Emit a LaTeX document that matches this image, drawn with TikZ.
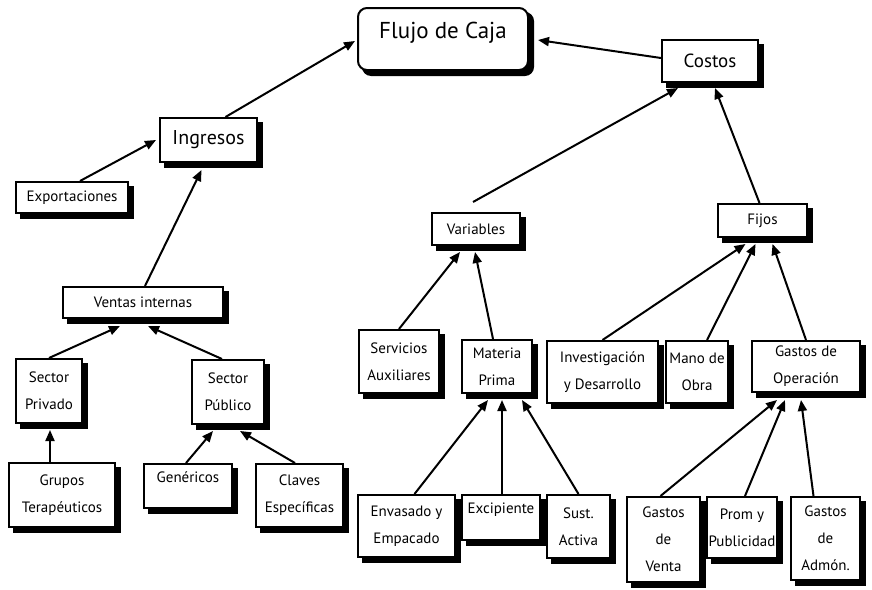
\documentclass[tikz,border=0pt]{standalone}
\usepackage{fontspec}
\setmainfont{PT Sans}
\usetikzlibrary{arrows.meta}
\usetikzlibrary{calc}
\usetikzlibrary{backgrounds}

\tikzset{
  caja/.style={draw, line width=2, fill=white, align=center, inner sep=2,
    font=\fontsize{15}{27}\selectfont},
  sombra/.style={fill=black},
  flecha/.style={line width=2, -{Triangle[length=11pt,width=9pt]}},
  arriba/.style={text depth=#1},
}

\begin{document}
\begin{tikzpicture}[x=1pt,y=1pt,yscale=-1,xscale=1]
\useasboundingbox (0,0) rectangle (872,589);

% Nivel superior
\node [caja, rounded corners=9, minimum width=170, minimum height=62, arriba=17pt, font=\fontsize{23}{28}\selectfont] (flujo) at (443,39) {Flujo de Caja};
\node [caja, minimum width=96, minimum height=42, font=\fontsize{19}{22}\selectfont] (costos) at (710,61) {Costos};
\node [caja, minimum width=97, minimum height=44, font=\fontsize{20}{22}\selectfont] (ingr) at (208.5,140) {Ingresos};

% Ingresos
\node [caja, minimum width=112, minimum height=31] (expo) at (72,197.5) {Exportaciones};
\node [caja, minimum width=160, minimum height=31] (ventas) at (143,302.5) {Ventas internas};
\node [caja, minimum width=66, minimum height=64] (spriv) at (49,391) {Sector\\Privado};
\node [caja, minimum width=72, minimum height=64] (spub) at (228,392) {Sector\\Público};
\node [caja, minimum width=106, minimum height=64] (grupos) at (62,495) {Grupos\\Terapéuticos};
\node [caja, minimum width=88, minimum height=44, arriba=17pt] (gen) at (188,486) {Genéricos};
\node [caja, minimum width=87, minimum height=63] (claves) at (299.5,495.5) {Claves\\Específicas};

% Costos
\node [caja, minimum width=88, minimum height=32] (var) at (476,229) {Variables};
\node [caja, minimum width=89, minimum height=33] (fijos) at (762.5,220.5) {Fijos};
\node [caja, minimum width=80, minimum height=63] (serv) at (399,361.5) {Servicios\\Auxiliares};
\node [caja, minimum width=70, minimum height=53] (mp) at (497,366.5) {Materia\\Prima};
\node [caja, minimum width=111, minimum height=62] (inv) at (602.5,372) {Investigación\\y Desarrollo};
\node [caja, minimum width=62, minimum height=62] (mano) at (697,372) {Mano de\\Obra};
\node [caja, minimum width=108, minimum height=51] (gop) at (806,366.5) {Gastos de\\Operación};
\node [caja, minimum width=97, minimum height=62] (env) at (406.5,526) {Envasado y\\Empacado};
\node [caja, minimum width=78, minimum height=45, arriba=18pt] (exc) at (501,517.5) {Excipiente};
\node [caja, minimum width=63, minimum height=63] (sust) at (578.5,526.5) {Sust.\\Activa};
\node [caja, minimum width=73, minimum height=85] (gv) at (663.5,539.5) {Gastos\\de\\Venta};
\node [caja, minimum width=70, minimum height=61] (prom) at (742,527.5) {Prom y\\Publicidad};
\node [caja, minimum width=69, minimum height=83] (adm) at (825.5,538.5) {Gastos\\de\\Admón.};

% Sombras
\begin{scope}[on background layer]
\fill [sombra, rounded corners=9] ($(flujo.north west)+(5,5)$) rectangle ($(flujo.south east)+(5,5)$);
\foreach \n in {costos,ingr,expo,ventas,spriv,spub,grupos,gen,claves,var,fijos,serv,mp,inv,mano,gop,env,exc,sust,gv,prom,adm}
  \fill [sombra] ($(\n.north west)+(5,5)$) rectangle ($(\n.south east)+(5,5)$);
\end{scope}

% Conectores
\draw [flecha] ($(ingr.north)+(17,0)$) -- ($(flujo.west)+(-2,2)$);
\draw [flecha] ($(costos.west)+(0,-3)$) -- ($(flujo.east)+(9,1)$);
\draw [flecha] ($(expo.north)+(8,0)$) -- ($(ingr.west)+(-3,0)$);
\draw [flecha] ($(ventas.north)+(2,0)$) -- ($(ingr.south)+(-7,7)$);
\draw [flecha] ($(var.north)+(-3,-10)$) -- ($(costos.south west)+(17,5)$);
\draw [flecha] ($(fijos.north)+(-3,0)$) -- ($(costos.south)+(5,5)$);
\draw [flecha] (spriv.north) -- ($(ventas.south)+(-23,7)$);
\draw [flecha] ($(spub.north)+(-6,0)$) -- ($(ventas.south)+(5,7)$);
\draw [flecha] ($(grupos.north)+(-12,0)$) -- ($(spriv.south)+(1,6)$);
\draw [flecha] ($(gen.north)+(-2,0)$) -- ($(spub.south)+(-15,6)$);
\draw [flecha] ($(claves.north)+(-4.5,0)$) -- ($(spub.south)+(12,6)$);
\draw [flecha] (serv.north) -- ($(var.south)+(-16,6)$);
\draw [flecha] ($(mp.north)+(-4,0)$) -- ($(var.south)+(-1,6)$);
\draw [flecha] (inv.north) -- ($(fijos.south)+(-17,6)$);
\draw [flecha] ($(mano.north)+(10,0)$) -- ($(fijos.south)+(-7,6)$);
\draw [flecha] (gop.north) -- ($(fijos.south)+(10,6)$);
\draw [flecha] ($(env.north)+(8,0)$) -- ($(mp.south)+(-9,6)$);
\draw [flecha] ($(exc.north)+(1,0)$) -- ($(mp.south)+(5,6)$);
\draw [flecha] (sust.north) -- ($(mp.south)+(25,6)$);
\draw [flecha] ($(gv.north)+(-3,0)$) -- ($(gop.south)+(-29,7)$);
\draw [flecha] ($(prom.north)+(3,0)$) -- ($(gop.south)+(-21,7)$);
\draw [flecha] ($(adm.north)+(-12,0)$) -- ($(gop.south)+(-5,7)$);

\end{tikzpicture}
\end{document}
